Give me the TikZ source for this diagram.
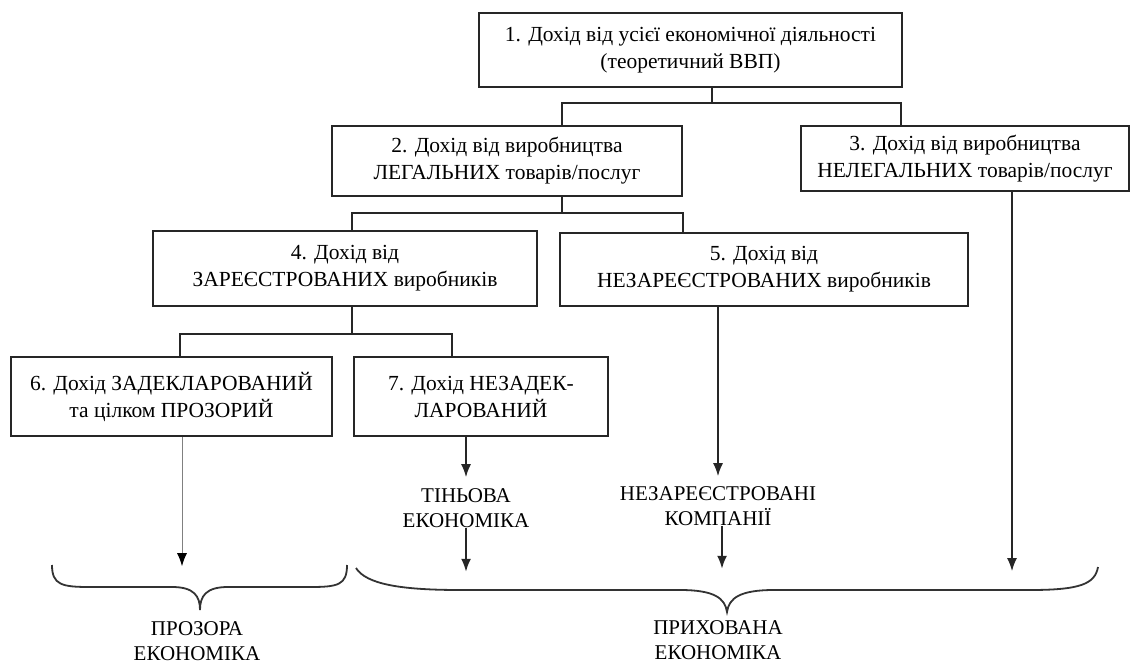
\documentclass[tikz,border=0pt]{standalone}
\usepackage{fontspec}
\setmainfont{Liberation Serif}
\usetikzlibrary{arrows.meta}

\begin{document}
\begin{tikzpicture}[x=1pt,y=-1pt,
	box/.style={draw=black!85,line width=2.4pt,align=center,inner sep=0pt,font=\fontsize{21.5}{27}\selectfont},
	link/.style={black!85,line width=1.8pt},
	arr/.style={link,-{Latex[length=13pt,width=10pt]}},
	thinarr/.style={gray,line width=1pt,-{Latex[length=13pt,width=10pt,color=black]}},
	brace/.style={black!80,line width=1.8pt},
	lbl/.style={align=center,inner sep=0pt,font=\fontsize{21}{25}\selectfont}]
	\useasboundingbox (0,0) rectangle (1132,666);
	% boxes
	\node[box,minimum width=423pt,minimum height=74pt] (b1) at (690.5,50) {1. Дохід від усієї економічної діяльності\\(теоретичний ВВП)};
	\node[box,minimum width=350pt,minimum height=70pt] (b2) at (507,161) {2. Дохід від виробництва\\ЛЕГАЛЬНИХ товарів/послуг};
	\node[box,minimum width=328pt,minimum height=65pt] (b3) at (965,158.5) {3. Дохід від виробництва\\НЕЛЕГАЛЬНИХ товарів/послуг};
	\node[box,minimum width=384pt,minimum height=75pt] (b4) at (345,268.5) {4. Дохід від\\ЗАРЕЄСТРОВАНИХ виробників};
	\node[box,minimum width=408pt,minimum height=73pt] (b5) at (764,269.5) {5. Дохід від\\НЕЗАРЕЄСТРОВАНИХ виробників};
	\node[box,minimum width=321pt,minimum height=79pt] (b6) at (171.5,396.5) {6. Дохід ЗАДЕКЛАРОВАНИЙ\\та цілком ПРОЗОРИЙ};
	\node[box,minimum width=254pt,minimum height=79pt] (b7) at (481,396.5) {7. Дохід НЕЗАДЕК-\\ЛАРОВАНИЙ};
	% labels
	\node[lbl] (t1) at (466,508) {ТІНЬОВА\\ЕКОНОМІКА};
	\node[lbl] (t2) at (718,506) {НЕЗАРЕЄСТРОВАНІ\\КОМПАНІЇ};
	\node[lbl] (t3) at (197,641) {ПРОЗОРА\\ЕКОНОМІКА};
	\node[lbl] (t4) at (718,640) {ПРИХОВАНА\\ЕКОНОМІКА};
	% tree links
	\draw[link] ([xshift=21.5pt]b1.south) -- ++(0,15) coordinate (j1) -| ([xshift=55pt]b2.north);
	\draw[link] (j1) -| ([xshift=-64pt]b3.north);
	\draw[link] ([xshift=55pt]b2.south) -- ++(0,16) coordinate (j2) -| ([xshift=7pt]b4.north);
	\draw[link] (j2) -| ([xshift=-81pt]b5.north);
	\draw[link] ([xshift=7pt]b4.south) -- ++(0,27) coordinate (j3) -| ([xshift=8.5pt]b6.north);
	\draw[link] (j3) -| ([xshift=-29pt]b7.north);
	% arrows
	\draw[thinarr] ([xshift=10.5pt]b6.south) -- ++(0,129);
	\draw[arr,shorten >=11pt] (b7.south -| t1.north) -- (t1.north);
	\draw[arr] (t1.south) -- ++(0,44);
	\draw[arr,shorten >=10pt] (b5.south -| t2.north) -- (t2.north);
	\draw[arr] ([xshift=4pt]t2.south) -- ++(0,43);
	\draw[arr] ([xshift=47pt]b3.south) -- ++(0,379);
	% braces
	\draw[brace] (52,565) .. controls (52,585) and (62,587) .. (90,587) -- (172,587)
		.. controls (194,587) and (200,596) .. (200,610)
		.. controls (200,596) and (206,587) .. (228,587) -- (310,587)
		.. controls (338,587) and (347,585) .. (347,565);
	\draw[brace] (356,568) .. controls (366,584) and (400,590) .. (460,590) -- (680,590)
		.. controls (714,590) and (725,598) .. (727,612)
		.. controls (729,598) and (740,590) .. (774,590) -- (1030,590)
		.. controls (1080,590) and (1095,584) .. (1098,567);
\end{tikzpicture}
\end{document}
